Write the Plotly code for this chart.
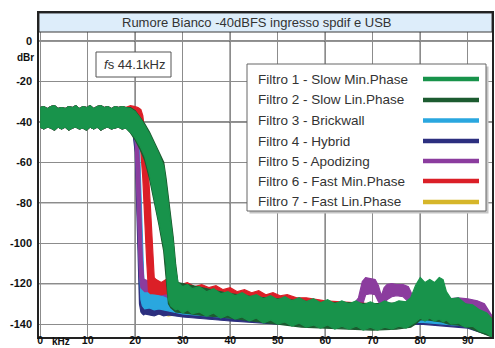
import plotly.graph_objects as go

# ---------------- data ----------------
TITLE = "Rumore Bianco -40dBFS ingresso spdif e USB"
FS_LABEL = "<i>f</i>s 44.1kHz"
X_TICKS = [0, 10, 20, 30, 40, 50, 60, 70, 80, 90]
Y_TICKS = [0, -20, -40, -60, -80, -100, -120, -140]

NAMES = ["Filtro 1 - Slow Min.Phase", "Filtro 2 - Slow Lin.Phase", "Filtro 3 - Brickwall",
         "Filtro 4 - Hybrid", "Filtro 5 - Apodizing", "Filtro 6 - Fast Min.Phase",
         "Filtro 7 - Fast Lin.Phase"]
COLORS = ["#18934b", "#1c5b30", "#2aa7df", "#2c2f7f", "#8b3c9e", "#db1f27", "#d6b62a"]

# common passband (kHz, upper / lower edge of the noise band, dBr)
PASS_KHZ = [0, 0.75, 1.5, 2.25, 3, 3.75, 4.5, 5.25, 6, 6.75, 7.5, 8.25, 9, 9.75, 10.5, 11.25, 12,
            12.75, 13.5, 14.25, 15, 15.75, 16.5, 17.25, 18]
PASS_HI = [-33, -32.5, -33.5, -32.5, -32, -33.5, -33, -33.5, -32.5, -33, -32, -33.5, -32.5, -33, -32,
           -33.5, -32.5, -32, -33, -32.5, -33.5, -32.5, -33, -32.5, -33]
PASS_LO = [-42.5, -43.5, -42.5, -43, -44, -42.5, -43.5, -42.5, -44, -43, -42.5, -43.5, -43, -44,
           -42.5, -43.5, -42.5, -44, -43, -42.5, -43.5, -43, -42.5, -43.5, -43]

# Filtro 1 - slow min phase
F1_KHZ = [19, 20, 21, 22, 23, 24, 25, 26, 26.5, 27, 27.5, 28, 28.5,
          29, 30, 31, 32, 33.5, 35, 36.5, 38, 39.5, 41, 42.5, 44, 45.5, 47, 48.5, 50, 51.5, 53,
          54.5, 56, 57.5, 59, 60.5, 62, 63.5, 65, 66.5, 68, 69.5, 71, 72.5, 74, 75.5, 77, 78, 79,
          80, 81, 82, 83, 84, 84.8, 85.5, 86.5, 88, 89.5, 91, 92.5, 94, 95.1]
F1_HI = [-33.5, -35, -38, -42, -46, -51, -56, -62, -71, -80, -90, -100, -113,
         -119.5, -121.5, -120.5, -122.5, -121.5, -124, -122.5, -125, -124, -126, -124.5, -126.5,
         -125.5, -127.5, -126, -128, -126.5, -128.5, -127, -129, -127.5, -129.5, -128, -130, -128.5,
         -130, -128.5, -130.5, -129, -130.5, -128.5, -130, -128.5, -129, -127, -121, -117, -119.5,
         -118, -119.5, -117, -118, -124, -127.5, -127, -130, -130.5, -133, -134.5, -137.5]
F1_LO = [-45, -48, -52, -57, -66, -77, -89, -101, -110, -128, -131, -132, -133,
         -132.5, -134.5, -133, -135, -134, -136, -134.5, -137, -135.5, -137.5, -136.5, -138.5, -137,
         -139.5, -138, -140, -139, -141, -139.5, -141.5, -140.5, -142, -140.5, -142.5, -141, -142.5,
         -141, -143, -141.5, -143, -141.5, -142.5, -141, -142, -140.5, -139, -137, -138.5, -137,
         -138.5, -137.5, -139, -138, -140, -139.5, -141.5, -141, -143.5, -144.5, -146.4]

# Filtro 2 - slow lin phase
F2_KHZ = [19, 20, 21, 22, 23, 24, 25, 26, 26.5, 27, 27.5, 28, 28.5, 29, 30, 32, 35, 38, 40, 45, 50,
          55, 60, 65, 70, 75, 78, 79, 80, 81.5, 83, 84.5, 85.2, 86, 88, 90, 92, 94, 95.1]
F2_HI = [-33, -34.5, -37.5, -41, -45, -50, -55, -60, -68, -77, -87, -97, -110, -119.5, -120, -121,
         -122.5, -124, -125, -126.5, -127.5, -128.5, -129.5, -129.5, -130, -129.5, -129, -124, -120,
         -121, -120, -119, -124, -128, -129, -130.5, -133, -136, -138]
F2_LO = [-45.5, -49, -53.5, -59, -68, -79, -91, -104, -116, -130, -132, -133, -134, -134, -134.5,
         -135, -136, -136.5, -137, -138.5, -140, -141.5, -142, -142.5, -143, -142.5, -141.5, -140,
         -138, -138, -138.5, -139, -139.5, -140, -140.5, -141.5, -143.5, -145.5, -146.4]

# Filtri 3, 4, 7 (steep filters)
STEEP_KHZ = [19, 19.5, 20, 20.3, 20.6, 20.9, 21.2, 21.5, 21.8, 22, 23, 24, 25, 26, 27, 30, 40, 50,
             60, 70, 80, 90, 95.1]
F3_HI = [-33, -33.5, -34.5, -36, -40, -52, -75, -100, -118, -121.5, -122, -121.5, -123, -122.5, -124,
         -125, -127.5, -129.5, -131, -131, -130.5, -132, -137]
F3_LO = [-43, -44, -48, -60, -85, -112, -128, -131, -132, -132.5, -132, -133, -132.5, -133, -133.5,
         -135, -137, -139, -140.5, -141, -139, -141, -145]
F4_HI = [-33, -34, -36, -42, -60, -88, -112, -126, -129, -130, -130, -130, -130.5, -130.5, -131,
         -131, -132, -133, -134, -134, -133, -134.5, -138]
F4_LO = [-43.5, -45, -55, -75, -105, -130, -134, -135, -135.5, -135, -135.5, -136, -135, -136, -135.5,
         -136.5, -138.5, -140, -141, -141.5, -140, -142, -146]
F7_HI = [-32.5, -33, -34, -37, -44, -60, -85, -108, -120, -123, -124, -124.5, -125, -125.5, -126,
         -127, -129, -131, -132, -132, -131.5, -133, -138]
F7_LO = [-43, -44.5, -50, -66, -95, -118, -130, -132.5, -133.5, -134, -134.5, -135, -135, -135.5, -136,
         -135, -137, -139.5, -141, -141.5, -139.5, -141.5, -145.5]

# Filtro 5 - apodizing
F5_KHZ = [19, 19.5, 20, 20.3, 20.6, 20.9, 21.2, 21.5, 21.8, 22, 23, 24, 25, 26, 27, 30, 40, 50, 60,
          66, 67, 67.8, 68.5, 69.5, 70.5, 71.2, 71.8, 72.4, 73, 74, 75, 76.4, 77.5, 78.2, 79, 82,
          85, 86, 88, 90, 92, 93.5, 95.1]
F5_HI = [-33, -33.5, -35, -38, -45, -62, -88, -108, -117.5, -118, -119, -118.5, -120.5, -120, -122,
         -123, -126, -128, -129.5, -130, -127, -119, -117, -117.5, -118, -121, -126, -122, -120.5,
         -120, -120.5, -120.5, -121.5, -125, -130, -130, -129, -127.5, -127, -127.5, -128.5, -130,
         -136]
F5_LO = [-43, -44.5, -50, -66, -92, -116, -122, -123, -123.5, -124, -124, -124.5, -125.5, -126, -127,
         -128, -131, -133, -134, -134, -134, -131, -125.5, -125, -125.5, -129, -131, -130, -128,
         -126.5, -126, -126.5, -129, -131, -134, -134, -133, -132, -132, -133, -134, -135, -140]

# Filtro 6 - fast min phase
F6_KHZ = [19, 20, 20.6, 21.2, 21.6, 22, 22.4, 22.8, 23.2, 23.6, 24,
          24.4, 25.5, 26.5, 27.5, 28.5, 29.5, 31, 32.5, 34, 35.5, 37, 38.5, 40, 41.5, 43, 44.5, 46,
          47.5, 49, 50.5, 52, 54, 56, 60, 70, 80, 90, 95.1]
F6_HI = [-32, -32.5, -33, -34, -37, -45, -55, -66, -82, -102, -117,
         -118, -119.5, -118, -119.5, -118.5, -120.5, -119.5, -121.5, -120.5, -122, -121, -123, -122,
         -124, -123, -124.5, -123.5, -125.5, -124.5, -126, -125.5, -127, -127, -128.5, -130, -130,
         -131, -137]
F6_LO = [-43, -44.5, -46, -55, -68, -85, -108, -124, -125, -125, -125,
         -125, -125.5, -125, -126, -125.5, -126, -126, -126.5, -127, -127, -127.5, -128, -128,
         -128.5, -129, -129, -129.5, -130, -130, -130.5, -131, -131, -131.5, -132, -133, -134, -136,
         -140]

SERIES = [  # (index into NAMES/COLORS, kHz, upper, lower) in drawing order
    (6, STEEP_KHZ, F7_HI, F7_LO),
    (3, STEEP_KHZ, F4_HI, F4_LO),
    (2, STEEP_KHZ, F3_HI, F3_LO),
    (4, F5_KHZ, F5_HI, F5_LO),
    (5, F6_KHZ, F6_HI, F6_LO),
    (1, F2_KHZ, F2_HI, F2_LO),
    (0, F1_KHZ, F1_HI, F1_LO),
]

# ---------------- figure ----------------
W, H = 495, 348
L, R, T, B = 39, 3, 13, 11
FONT = "Liberation Sans, Arial, sans-serif"


def P(px, py):
    return (px - L) / (W - L - R), (H - B - py) / (H - T - B)


fig = go.Figure()
for idx, fx, hi, lo in SERIES:
    xs = PASS_KHZ + fx
    up = PASS_HI + hi
    dn = PASS_LO + lo
    fig.add_trace(go.Scatter(
        x=xs + xs[::-1], y=up + dn[::-1], mode="lines", fill="toself",
        fillcolor=COLORS[idx], line=dict(color=COLORS[idx], width=1.2),
        name=NAMES[idx], showlegend=False, hoverinfo="skip"))

shapes = []
# darker grid lines
for xv in [20, 40, 60, 80]:
    shapes.append(dict(type="line", xref="x", yref="y", x0=xv, x1=xv, y0=-147, y1=4.4,
                       line=dict(color="#2a2a2a", width=1.2), layer="below"))
for yv in [0, -40, -80, -120]:
    shapes.append(dict(type="line", xref="x", yref="y", x0=-1, x1=96, y0=yv, y1=yv,
                       line=dict(color="#2a2a2a", width=1.2), layer="below"))
# title band
shapes.append(dict(type="rect", xref="x", yref="y", x0=-0.25, x1=95.1, y0=4.4, y1=13.8,
                   fillcolor="#ddedfa", line=dict(color="#3a3a3a", width=1), layer="above"))

ann = []
tx, ty = P(257, 22.5)
ann.append(dict(x=tx, y=ty, xref="paper", yref="paper", text=TITLE, showarrow=False,
                font=dict(family=FONT, size=13, color="#333"), xanchor="center", yanchor="middle"))

# fs box
x0, y0 = P(96, 52)
x1, y1 = P(171, 77)
shapes.append(dict(type="rect", xref="paper", yref="paper", x0=x0, x1=x1, y0=y0, y1=y1,
                   fillcolor="white", line=dict(color="#555", width=1), layer="above"))
tx, ty = P(134, 64.5)
ann.append(dict(x=tx, y=ty, xref="paper", yref="paper", text=FS_LABEL, showarrow=False,
                font=dict(family=FONT, size=13, color="#333"), xanchor="center", yanchor="middle"))

# legend box
x0, y0 = P(249.5, 66.5)
x1, y1 = P(488.5, 213.5)
shapes.append(dict(type="rect", xref="paper", yref="paper", x0=x0, x1=x1, y0=y0, y1=y1,
                   fillcolor="#c4c4c4", line=dict(width=0), layer="above"))
x0, y0 = P(247, 64)
x1, y1 = P(486, 211)
shapes.append(dict(type="rect", xref="paper", yref="paper", x0=x0, x1=x1, y0=y0, y1=y1,
                   fillcolor="white", line=dict(color="#666", width=1), layer="above"))
ROW_Y = [79, 100, 120.5, 141, 161, 181, 202]
for i, ry in enumerate(ROW_Y):
    tx, ty = P(256, ry)
    ann.append(dict(x=tx, y=ty, xref="paper", yref="paper", text=NAMES[i], showarrow=False,
                    font=dict(family=FONT, size=13.5, color="#333"), xanchor="left", yanchor="middle"))
    lx0, ly = P(423, ry)
    lx1, _ = P(479, ry)
    shapes.append(dict(type="line", xref="paper", yref="paper", x0=lx0, x1=lx1, y0=ly, y1=ly,
                       line=dict(color=COLORS[i], width=4.5), layer="above"))

# axis unit labels
tx, ty = P(36, 58)
ann.append(dict(x=tx, y=ty, xref="paper", yref="paper", text="dBr", showarrow=False,
                font=dict(family=FONT, size=10, color="#111", weight="bold"),
                xanchor="right", yanchor="middle"))
tx, ty = P(61, 341.5)
ann.append(dict(x=tx, y=ty, xref="paper", yref="paper", text="kHz", showarrow=False,
                font=dict(family=FONT, size=10, color="#111", weight="bold"),
                xanchor="center", yanchor="middle"))

fig.update_layout(
    width=W, height=H, margin=dict(l=L, r=R, t=T, b=B, autoexpand=False),
    paper_bgcolor="white", plot_bgcolor="white", template="none",
    shapes=shapes, annotations=ann, showlegend=False,
    xaxis=dict(range=[-0.25, 95.1], tickvals=X_TICKS, ticktext=[str(v) for v in X_TICKS],
               showgrid=True, gridcolor="#8c8c8c", gridwidth=1, zeroline=False,
               showline=True, mirror=True, linecolor="#222", linewidth=1.5, ticks="",
               automargin=False, ticklabelstandoff=-7,
               tickfont=dict(family=FONT, size=10.5, color="#111", weight="bold")),
    yaxis=dict(range=[-146.4, 13.8], tickvals=Y_TICKS, ticktext=[str(v) for v in Y_TICKS],
               showgrid=True, gridcolor="#8c8c8c", gridwidth=1, zeroline=False,
               showline=True, mirror=True, linecolor="#222", linewidth=1.5, ticks="",
               automargin=False, ticklabelstandoff=3,
               tickfont=dict(family=FONT, size=11, color="#111", weight="bold")),
)

fig.write_html("out.html", config={"displayModeBar": False},
               post_script="document.body.style.margin='0';document.body.style.padding='0';")
